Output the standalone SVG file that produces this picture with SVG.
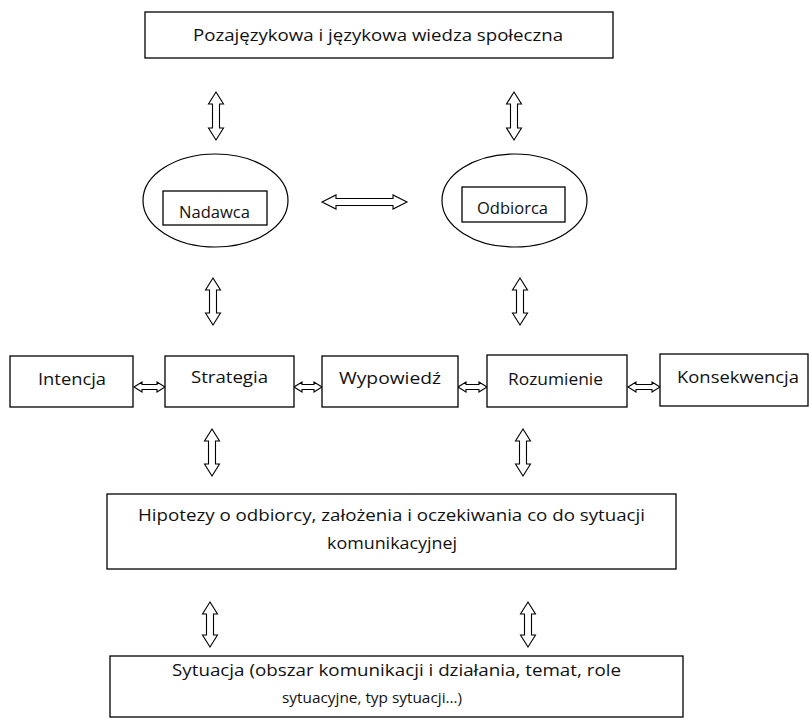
<svg xmlns="http://www.w3.org/2000/svg" width="809" height="728" viewBox="0 0 809 728">
<style>
.box{fill:#fff;stroke:#000;stroke-width:1.3}
.ell{fill:#fff;stroke:#000;stroke-width:1.2}
.arr{fill:#fff;stroke:#000;stroke-width:1.1;stroke-linejoin:miter}
text{font-family:"Open Sans","Liberation Sans",sans-serif;font-size:16px;fill:#111;text-anchor:middle}
</style>
<rect width="809" height="728" fill="#fff"/>
<g id="connectors">
<polygon class="arr" points="216,92 223.5,104 219.5,104 219.5,128 223.5,128 216,140 208.5,128 212.5,128 212.5,104 208.5,104"/>
<polygon class="arr" points="514,92 521.5,104 517.5,104 517.5,128 521.5,128 514,140 506.5,128 510.5,128 510.5,104 506.5,104"/>
<polygon class="arr" points="213,278 220.5,290 216.5,290 216.5,313 220.5,313 213,325 205.5,313 209.5,313 209.5,290 205.5,290"/>
<polygon class="arr" points="520,278 527.5,290 523.5,290 523.5,313 527.5,313 520,325 512.5,313 516.5,313 516.5,290 512.5,290"/>
<polygon class="arr" points="212,429 219.5,441 215.5,441 215.5,464 219.5,464 212,476 204.5,464 208.5,464 208.5,441 204.5,441"/>
<polygon class="arr" points="523,429 530.5,441 526.5,441 526.5,464 530.5,464 523,476 515.5,464 519.5,464 519.5,441 515.5,441"/>
<polygon class="arr" points="210,602 217.5,614 213.5,614 213.5,635 217.5,635 210,647 202.5,635 206.5,635 206.5,614 202.5,614"/>
<polygon class="arr" points="528,602 535.5,614 531.5,614 531.5,635 535.5,635 528,647 520.5,635 524.5,635 524.5,614 520.5,614"/>
<polygon class="arr" points="322,202 336,195 336,198.5 393,198.5 393,195 407,202 393,209 393,205.5 336,205.5 336,209"/>
<polygon class="arr" points="134,387 142,382 142,384.5 157,384.5 157,382 165,387 157,392 157,389.5 142,389.5 142,392"/>
<polygon class="arr" points="294,387 302,382 302,384.5 314,384.5 314,382 322,387 314,392 314,389.5 302,389.5 302,392"/>
<polygon class="arr" points="458,387 466,382 466,384.5 479,384.5 479,382 487,387 479,392 479,389.5 466,389.5 466,392"/>
<polygon class="arr" points="628,387 636,382 636,384.5 652,384.5 652,382 660,387 652,392 652,389.5 636,389.5 636,392"/>
</g>
<g id="wiedza">
<rect class="box" x="145" y="12" width="468" height="46"/>
<text x="378" y="41" textLength="370" lengthAdjust="spacingAndGlyphs">Pozajęzykowa i językowa wiedza społeczna</text>
</g>
<g id="nadawca">
<ellipse class="ell" cx="215.5" cy="200.5" rx="72.5" ry="46.5"/>
<rect class="box" x="163" y="191" width="104" height="34"/>
<text x="214.5" y="218" textLength="71" lengthAdjust="spacingAndGlyphs">Nadawca</text>
</g>
<g id="odbiorca">
<ellipse class="ell" cx="514.5" cy="200.5" rx="72.5" ry="46.5"/>
<rect class="box" x="462" y="187" width="103" height="35"/>
<text x="512.5" y="214" textLength="71" lengthAdjust="spacingAndGlyphs">Odbiorca</text>
</g>
<g id="intencja">
<rect class="box" x="10" y="356" width="123" height="51"/>
<text x="72" y="385" textLength="68" lengthAdjust="spacingAndGlyphs">Intencja</text>
</g>
<g id="strategia">
<rect class="box" x="165" y="356" width="129" height="51"/>
<text x="229.5" y="383" textLength="77" lengthAdjust="spacingAndGlyphs">Strategia</text>
</g>
<g id="wypowiedz">
<rect class="box" x="322" y="356" width="136" height="51"/>
<text x="390" y="384" textLength="102" lengthAdjust="spacingAndGlyphs">Wypowiedź</text>
</g>
<g id="rozumienie">
<rect class="box" x="487" y="355" width="140" height="52"/>
<text x="555.5" y="385" textLength="95" lengthAdjust="spacingAndGlyphs">Rozumienie</text>
</g>
<g id="konsekwencja">
<rect class="box" x="660" y="354" width="148" height="52"/>
<text x="738" y="383" textLength="122" lengthAdjust="spacingAndGlyphs">Konsekwencja</text>
</g>
<g id="hipotezy">
<rect class="box" x="107" y="494" width="569" height="75"/>
<text x="391.5" y="521" textLength="507" lengthAdjust="spacingAndGlyphs">Hipotezy o odbiorcy, założenia i oczekiwania co do sytuacji</text>
<text x="392" y="549" textLength="130" lengthAdjust="spacingAndGlyphs">komunikacyjnej</text>
</g>
<g id="sytuacja">
<rect class="box" x="110" y="656" width="573" height="61"/>
<text x="396.5" y="676" textLength="449" lengthAdjust="spacingAndGlyphs">Sytuacja (obszar komunikacji i działania, temat, role</text>
<text x="372" y="703" style="font-size:15px" textLength="180" lengthAdjust="spacingAndGlyphs">sytuacyjne, typ sytuacji…)</text>
</g>
</svg>
